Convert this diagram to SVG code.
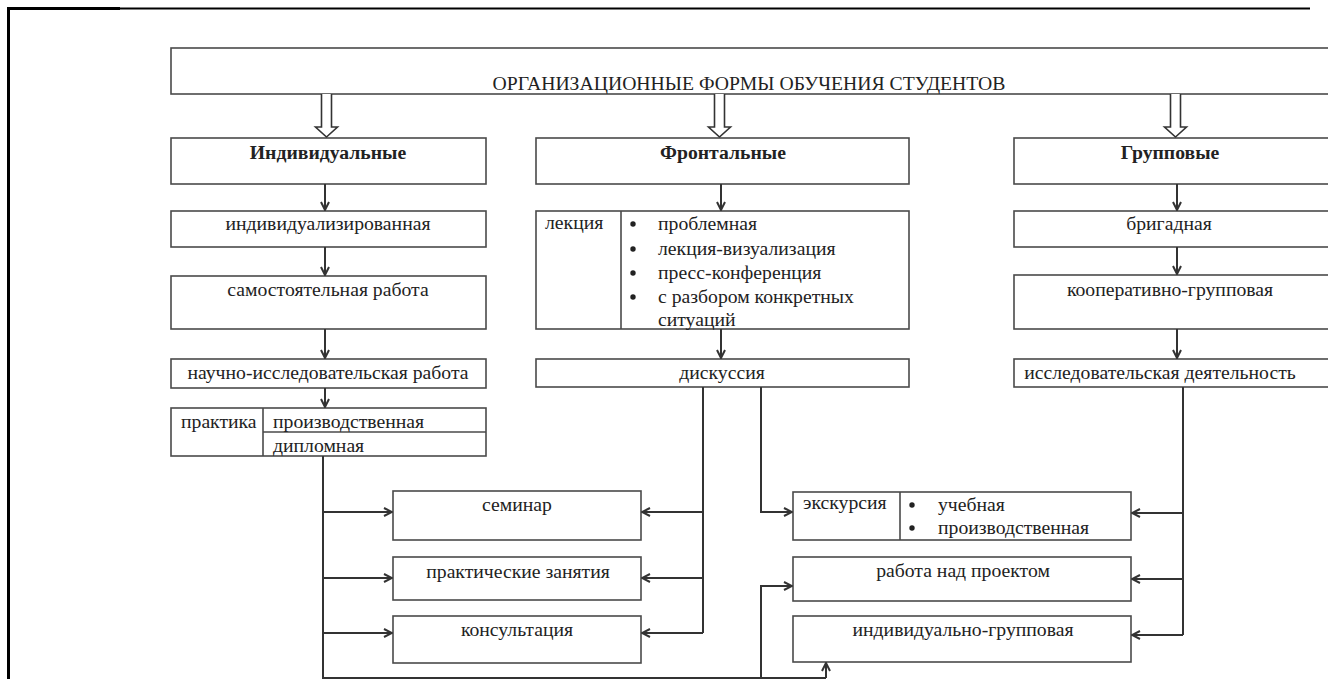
<svg xmlns="http://www.w3.org/2000/svg" width="1328" height="679" viewBox="0 0 1328 679">
<style>
.b{fill:#fff;stroke:#4a4a4a;stroke-width:1.6}
.t{font-family:'Liberation Serif','Times New Roman',serif;font-size:19.7px;fill:#222}
.c{text-anchor:middle}
.h{font-weight:bold}
.ln{fill:none;stroke:#333;stroke-width:2}
.ar{fill:none;stroke:#333;stroke-width:2;marker-end:url(#a)}
.ha{fill:#fff;stroke:#333;stroke-width:1.6}
.d{stroke:#4a4a4a;stroke-width:1.6}
</style>
<defs>
<marker id="a" viewBox="0 0 10 10" refX="9" refY="5" markerWidth="10" markerHeight="10" markerUnits="userSpaceOnUse" orient="auto">
<path d="M1,1 L9,5 L1,9" fill="none" stroke="#333" stroke-width="2"/>
</marker>
</defs>
<rect width="1328" height="679" fill="#fff"/>
<g id="page">
<line x1="8.5" y1="7" x2="8.5" y2="679" stroke="#000" stroke-width="3"/>
<line x1="7" y1="8.5" x2="120" y2="8.5" stroke="#000" stroke-width="3"/>
<line x1="120" y1="8.5" x2="1310" y2="8.5" stroke="#000" stroke-width="2"/>
</g>
<g id="root">
<rect class="b" x="171" y="48" width="1170" height="46"/>
<text class="t c" x="749" y="90">ОРГАНИЗАЦИОННЫЕ ФОРМЫ ОБУЧЕНИЯ СТУДЕНТОВ</text>
</g>
<g id="individual">
<rect class="b" x="171" y="138" width="315" height="46"/>
<text class="t c h" x="328" y="159">Индивидуальные</text>
</g>
<g id="frontal">
<rect class="b" x="536" y="138" width="373" height="46"/>
<text class="t c h" x="723" y="159">Фронтальные</text>
</g>
<g id="group">
<rect class="b" x="1014" y="138" width="330" height="46"/>
<text class="t c h" x="1170" y="159">Групповые</text>
</g>
<g id="individualized">
<rect class="b" x="171" y="211" width="315" height="36"/>
<text class="t c" x="328" y="230">индивидуализированная</text>
</g>
<g id="selfwork">
<rect class="b" x="171" y="276" width="315" height="53"/>
<text class="t c" x="328" y="296">самостоятельная работа</text>
</g>
<g id="research">
<rect class="b" x="171" y="359" width="315" height="29"/>
<text class="t c" x="328" y="379">научно-исследовательская работа</text>
</g>
<g id="practice">
<rect class="b" x="171" y="408" width="315" height="48"/>
<line class="d" x1="263" y1="408" x2="263" y2="456"/>
<line class="d" x1="263" y1="432" x2="486" y2="432"/>
<text class="t" x="181" y="428">практика</text>
<text class="t" x="273" y="428">производственная</text>
<text class="t" x="273" y="452">дипломная</text>
</g>
<g id="lecture">
<rect class="b" x="536" y="211" width="373" height="118"/>
<line class="d" x1="621" y1="211" x2="621" y2="329"/>
<text class="t" x="545" y="229">лекция</text>
<circle cx="633" cy="224" r="2.7" fill="#222"/>
<circle cx="633" cy="249" r="2.7" fill="#222"/>
<circle cx="633" cy="273" r="2.7" fill="#222"/>
<circle cx="633" cy="297" r="2.7" fill="#222"/>
<text class="t" x="658" y="230">проблемная</text>
<text class="t" x="658" y="255">лекция-визуализация</text>
<text class="t" x="658" y="279">пресс-конференция</text>
<text class="t" x="658" y="303">с разбором конкретных</text>
<text class="t" x="658" y="326">ситуаций</text>
</g>
<g id="discussion">
<rect class="b" x="536" y="359" width="373" height="28"/>
<text class="t c" x="722" y="379">дискуссия</text>
</g>
<g id="brigade">
<rect class="b" x="1014" y="211" width="330" height="36"/>
<text class="t c" x="1169" y="230">бригадная</text>
</g>
<g id="coop">
<rect class="b" x="1014" y="275" width="330" height="54"/>
<text class="t c" x="1170" y="296">кооперативно-групповая</text>
</g>
<g id="research-activity">
<rect class="b" x="1014" y="359" width="330" height="28"/>
<text class="t c" x="1160" y="379">исследовательская деятельность</text>
</g>
<g id="seminar">
<rect class="b" x="393" y="491" width="248" height="49"/>
<text class="t c" x="517" y="511">семинар</text>
</g>
<g id="practical">
<rect class="b" x="393" y="557" width="248" height="43"/>
<text class="t c" x="518" y="578">практические занятия</text>
</g>
<g id="consult">
<rect class="b" x="393" y="616" width="248" height="47"/>
<text class="t c" x="517" y="636">консультация</text>
</g>
<g id="excursion">
<rect class="b" x="793" y="492" width="338" height="48"/>
<line class="d" x1="900" y1="492" x2="900" y2="540"/>
<text class="t" x="803" y="509">экскурсия</text>
<circle cx="912" cy="505" r="2.7" fill="#222"/>
<circle cx="912" cy="528" r="2.7" fill="#222"/>
<text class="t" x="938" y="511">учебная</text>
<text class="t" x="938" y="534">производственная</text>
</g>
<g id="project">
<rect class="b" x="793" y="557" width="338" height="44"/>
<text class="t c" x="963" y="577">работа над проектом</text>
</g>
<g id="indgroup">
<rect class="b" x="793" y="616" width="338" height="46"/>
<text class="t c" x="963" y="636">индивидуально-групповая</text>
</g>
<g id="connectors">
<path class="ha" d="M321.5,94 V127 H315.5 L326.5,137 L337.5,127 H331.5 V94"/>
<path class="ha" d="M714.5,94 V127 H708.5 L719.5,137 L730.5,127 H724.5 V94"/>
<path class="ha" d="M1170.5,94 V127 H1164.5 L1175.5,137 L1186.5,127 H1180.5 V94"/>
<path class="ar" d="M325,184 V210"/>
<path class="ar" d="M325,247 V275"/>
<path class="ar" d="M325,329 V358"/>
<path class="ar" d="M325,388 V407"/>
<path class="ar" d="M721,184 V210"/>
<path class="ar" d="M721,329 V358"/>
<path class="ar" d="M1177,184 V210"/>
<path class="ar" d="M1177,247 V274"/>
<path class="ar" d="M1177,329 V358"/>
<path class="ln" d="M323,456 V678 H826"/>
<path class="ar" d="M323,512 H392"/>
<path class="ar" d="M323,578 H392"/>
<path class="ar" d="M323,633 H392"/>
<path class="ar" d="M826,678 V663"/>
<path class="ar" d="M761,678 V586 H792"/>
<path class="ln" d="M703,387 V633"/>
<path class="ar" d="M703,512 H642"/>
<path class="ar" d="M703,578 H642"/>
<path class="ar" d="M703,633 H642"/>
<path class="ar" d="M761,387 V512 H792"/>
<path class="ln" d="M1183,387 V635"/>
<path class="ar" d="M1183,513 H1132"/>
<path class="ar" d="M1183,579 H1132"/>
<path class="ar" d="M1183,635 H1132"/>
</g>
</svg>
